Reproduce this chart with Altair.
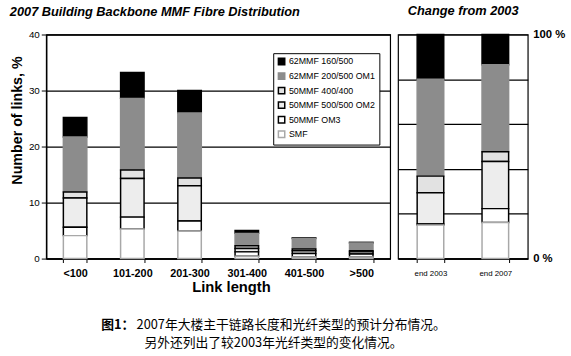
import altair as alt
import pandas as pd

# ---------------- data ----------------
categories = ["<100", "101-200", "201-300", "301-400", "401-500", ">500"]
fibre_types = ["62MMF 160/500", "62MMF 200/500 OM1", "50MMF 400/400",
               "50MMF 500/500 OM2", "50MMF OM3", "SMF"]

mmf62_160 = [3.5, 4.6, 4.0, 0.5, 0.1, 0.1]
mmf62_om1 = [9.8, 12.8, 11.6, 2.2, 1.9, 1.4]
mmf50_400 = [1.1, 1.5, 1.4, 0.5, 0.3, 0.2]
mmf50_om2 = [5.2, 6.9, 6.3, 0.6, 0.5, 0.4]
mmf50_om3 = [1.5, 2.1, 1.8, 0.8, 0.6, 0.5]
smf = [4.1, 5.3, 4.9, 0.4, 0.3, 0.3]

years = ["end 2003", "end 2007"]
chg_160 = [20.0, 13.5]
chg_om1 = [43.2, 38.8]
chg_400 = [7.4, 4.4]
chg_om2 = [14.0, 21.0]
chg_om3 = [0.4, 6.2]
chg_smf = [15.0, 16.1]

caption_label = "图1："
caption_line1 = "2007年大楼主干链路长度和光纤类型的预计分布情况。"
caption_line2 = "另外还列出了较2003年光纤类型的变化情况。"

fill_colors = ["#000000", "#8c8c8c", "#e2e2e2", "#ededed", "#ffffff", "#ffffff"]
stroke_colors = ["#000000", "#8c8c8c", "#000000", "#000000", "#000000", "#a8a8a8"]

FONT = "Liberation Sans"

# ---------------- tables ----------------
series_len = [mmf62_160, mmf62_om1, mmf50_400, mmf50_om2, mmf50_om3, smf]
rows = []
for ti, (t, vals) in enumerate(zip(fibre_types, series_len)):
    for c, v in zip(categories, vals):
        rows.append({"length": c, "type": t, "pct": v, "rank": len(fibre_types) - 1 - ti})
df_len = pd.DataFrame(rows)

series_chg = [chg_160, chg_om1, chg_400, chg_om2, chg_om3, chg_smf]
rows = []
for ti, (t, vals) in enumerate(zip(fibre_types, series_chg)):
    for y, v in zip(years, vals):
        rows.append({"year": y, "type": t, "pct": v, "rank": len(fibre_types) - 1 - ti})
df_chg = pd.DataFrame(rows)

fill_scale = alt.Scale(domain=fibre_types, range=fill_colors)
stroke_scale = alt.Scale(domain=fibre_types, range=stroke_colors)

legend = alt.Legend(
    title=None, orient="none", legendX=231, legendY=19,
    fillColor="white", strokeColor="black", padding=4,
    labelFont=FONT, labelFontSize=9, labelColor="black", labelOffset=3,
    symbolType="square", symbolSize=42, symbolStrokeWidth=1.5,
    rowPadding=1.8, labelLimit=200,
)

# ---------------- left panel ----------------
bars_left = alt.Chart(df_len).mark_bar(strokeWidth=1.5).encode(
    x=alt.X("length:N", sort=categories,
            scale=alt.Scale(paddingInner=0.59, paddingOuter=0.3),
            axis=alt.Axis(title="Link length", labelAngle=0, labelFontSize=11,
                          labelFontWeight="bold", labelColor="black", labelPadding=5,
                          tickBand="extent", tickSize=4, tickColor="black",
                          domainColor="black", domainWidth=1.5,
                          titleFontSize=15, titleFontWeight="bold", titleColor="black",
                          titlePadding=1, titleX=188)),
    y=alt.Y("pct:Q", stack="zero", scale=alt.Scale(domain=[0, 40]),
            axis=alt.Axis(title="Number of links, %", values=[0, 10, 20, 30, 40],
                          labelFontSize=10, labelColor="black", labelPadding=2,
                          tickSize=5, tickColor="black", domainColor="black", domainWidth=1.5,
                          grid=True, gridColor="black", gridWidth=1.3,
                          titleFontSize=14.5, titleFontWeight="bold", titleColor="black",
                          titleX=-22, titleY=87, titleAngle=-90, titleAlign="center",
                          titleBaseline="bottom")),
    fill=alt.Fill("type:N", scale=fill_scale, legend=legend),
    stroke=alt.Stroke("type:N", scale=stroke_scale, legend=legend),
    order=alt.Order("rank:Q"),
)

cap_a = alt.Chart(pd.DataFrame({"t": [caption_label]})).mark_text(
    font="Noto Sans CJK SC", fontSize=13, fontWeight="bold", align="left",
    baseline="middle", color="black"
).encode(text="t:N", x=alt.value(56), y=alt.value(296))

cap_b = alt.Chart(pd.DataFrame({"t": [caption_line1]})).mark_text(
    font="Noto Sans CJK SC", fontSize=13, align="left", baseline="middle", color="black"
).encode(text="t:N", x=alt.value(92), y=alt.value(296))

cap_c = alt.Chart(pd.DataFrame({"t": [caption_line2]})).mark_text(
    font="Noto Sans CJK SC", fontSize=13, align="left", baseline="middle", color="black"
).encode(text="t:N", x=alt.value(100), y=alt.value(314))

left = alt.layer(bars_left, cap_a, cap_b, cap_c).properties(
    width=350, height=228,
    title=alt.TitleParams("2007 Building Backbone MMF Fibre Distribution",
                          font=FONT, fontSize=13, fontWeight="bold", fontStyle="italic",
                          anchor="start", offset=11, color="black"),
)

# ---------------- right panel ----------------
right = alt.Chart(df_chg).mark_bar(strokeWidth=1.5).encode(
    x=alt.X("year:N", sort=years,
            scale=alt.Scale(paddingInner=0.59, paddingOuter=0.295),
            axis=alt.Axis(title=None, labelAngle=0, labelFontSize=8, labelColor="black",
                          labelPadding=7, tickBand="extent", tickSize=4, tickColor="black",
                          domainColor="black", domainWidth=1.5)),
    y=alt.Y("pct:Q", stack="zero", scale=alt.Scale(domain=[0, 100]),
            axis=alt.Axis(orient="right", title=None, values=[0, 20, 40, 60, 80, 100],
                          labelExpr="datum.value == 0 || datum.value == 100 ? datum.value + ' %' : ''",
                          labelFontSize=11.5, labelFontWeight="bold", labelColor="black",
                          labelPadding=5, ticks=False, domain=False,
                          grid=True, gridColor="black", gridWidth=1.2)),
    fill=alt.Fill("type:N", scale=fill_scale, legend=None),
    stroke=alt.Stroke("type:N", scale=stroke_scale, legend=None),
    order=alt.Order("rank:Q"),
).properties(
    width=132, height=228,
    title=alt.TitleParams("Change from 2003", font=FONT, fontSize=13, fontWeight="bold",
                          fontStyle="italic", anchor="start", offset=11, dx=10, color="black"),
)

chart = alt.hconcat(left, right, spacing=8, bounds="flush").resolve_scale(
    fill="independent", stroke="independent"
).properties(
    padding={"left": 9, "top": 1, "right": 5, "bottom": 2},
    background="white",
).configure(font=FONT).configure_view(stroke="black", strokeWidth=1.2)

chart.save("out.html", embed_options={"renderer": "svg", "actions": False})
